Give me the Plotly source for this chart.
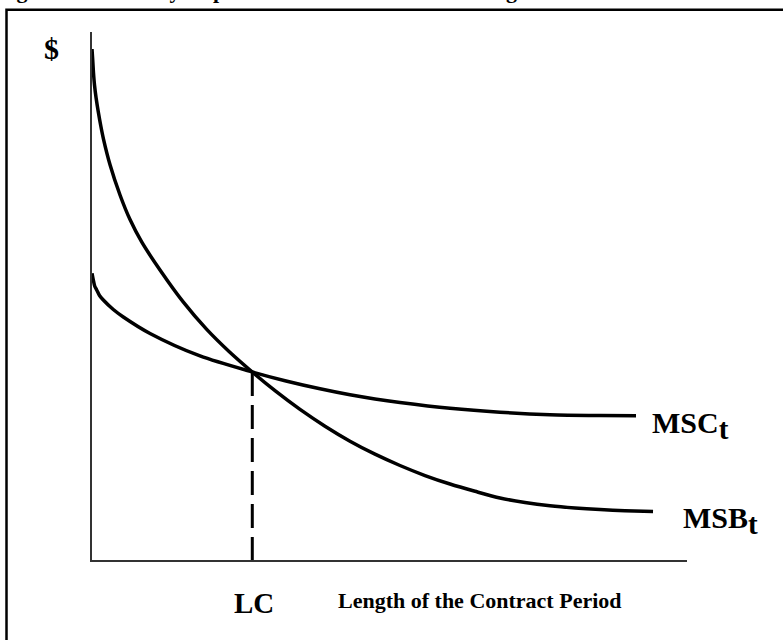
import plotly.graph_objects as go

# ---- data (arbitrary units) ----
msb_x = [0.0, 0.012, 0.024, 0.042, 0.069, 0.106, 0.148, 0.193, 0.303, 0.471,
         0.639, 0.835, 1.143, 1.529, 1.928, 2.303, 2.694, 3.092, 3.496, 3.916,
         4.336, 4.756, 5.176, 5.597, 6.017, 6.437, 6.857, 7.277, 7.697, 8.118,
         8.538, 8.958, 9.429]
msb_y = [9.678, 9.470, 9.242, 8.996, 8.750, 8.485, 8.220, 7.973, 7.487, 6.913,
         6.447, 6.023, 5.492, 4.892, 4.367, 3.949, 3.561, 3.193, 2.852, 2.534,
         2.250, 2.004, 1.790, 1.600, 1.439, 1.301, 1.174, 1.089, 1.027, 0.985,
         0.955, 0.934, 0.919]

msc_x = [0.0, 0.022, 0.045, 0.079, 0.126, 0.19, 0.358, 0.526, 0.975, 1.815,
         2.694, 3.261, 3.832, 4.336, 4.756, 5.176, 6.017, 6.857, 7.697, 8.538,
         9.143]
msc_y = [5.430, 5.303, 5.189, 5.114, 5.009, 4.924, 4.744, 4.602, 4.290, 3.864,
         3.561, 3.390, 3.242, 3.129, 3.051, 2.985, 2.875, 2.799, 2.752, 2.737,
         2.733]

lc_x = 2.694
lc_y = 3.561

title_text = "Figure 2. Efficiency Improvements from Contract Length"
y_label = "$"
x_label = "Length of the Contract Period"
lc_label = "LC"
msc_label = "MSC<sub><span style='font-size:29px'>t</span></sub>"
msb_label = "MSB<sub><span style='font-size:29px'>t</span></sub>"

# ---- layout geometry ----
W, H = 783, 640
L, R, T, B = 92, 96, 32, 80
XR = (0, 10)
YR = (0, 10)
PW, PH = W - L - R, H - T - B


def px2p(px):
    return (px - L) / PW


def py2p(py):
    return (H - B - py) / PH


FONT = "Liberation Serif, Times New Roman, serif"

fig = go.Figure()

curve_line = dict(color="black", width=3.5, shape="spline", smoothing=0.8)
fig.add_trace(go.Scatter(x=msb_x, y=msb_y, mode="lines", line=curve_line,
                         cliponaxis=False, hoverinfo="skip", showlegend=False))
fig.add_trace(go.Scatter(x=msc_x, y=msc_y, mode="lines", line=curve_line,
                         cliponaxis=False, hoverinfo="skip", showlegend=False))
fig.add_trace(go.Scatter(x=[lc_x, lc_x], y=[lc_y, 0], mode="lines",
                         line=dict(color="black", width=3, dash="24px,9px"),
                         cliponaxis=False, hoverinfo="skip", showlegend=False))


def ann(text, px, py, size, xanchor="center", yanchor="top"):
    fig.add_annotation(text=text, x=px2p(px), y=py2p(py), xref="paper", yref="paper",
                       xanchor=xanchor, yanchor=yanchor, showarrow=False,
                       font=dict(family=FONT, size=size, color="black", weight="bold"))


ann(title_text, -5, -24, 22, xanchor="left")
ann(y_label, 51, 30, 30)
ann(lc_label, 254, 585, 29)
ann(x_label, 480, 586, 22)
ann(msc_label, 650, 404, 30, xanchor="left")
ann(msb_label, 681, 499, 30, xanchor="left")

# outer frame
fig.add_shape(type="rect", xref="paper", yref="paper",
              x0=px2p(6.5), x1=px2p(900), y0=py2p(800), y1=py2p(9.8),
              line=dict(color="black", width=2.5), fillcolor="rgba(0,0,0,0)")

fig.update_layout(
    width=W, height=H,
    margin=dict(l=L, r=R, t=T, b=B, pad=0, autoexpand=False),
    paper_bgcolor="white", plot_bgcolor="white",
    showlegend=False, hovermode=False,
    xaxis=dict(range=list(XR), showgrid=False, zeroline=False, showticklabels=False,
               ticks="", showline=True, linecolor="#333", linewidth=1.5, fixedrange=True),
    yaxis=dict(range=list(YR), showgrid=False, zeroline=False, showticklabels=False,
               ticks="", showline=True, linecolor="#333", linewidth=1.5, fixedrange=True),
)

fig.write_html(
    "out.html",
    config={"displayModeBar": False},
    post_script="document.body.style.margin='0';document.body.style.padding='0';"
                "document.documentElement.style.margin='0';",
)
